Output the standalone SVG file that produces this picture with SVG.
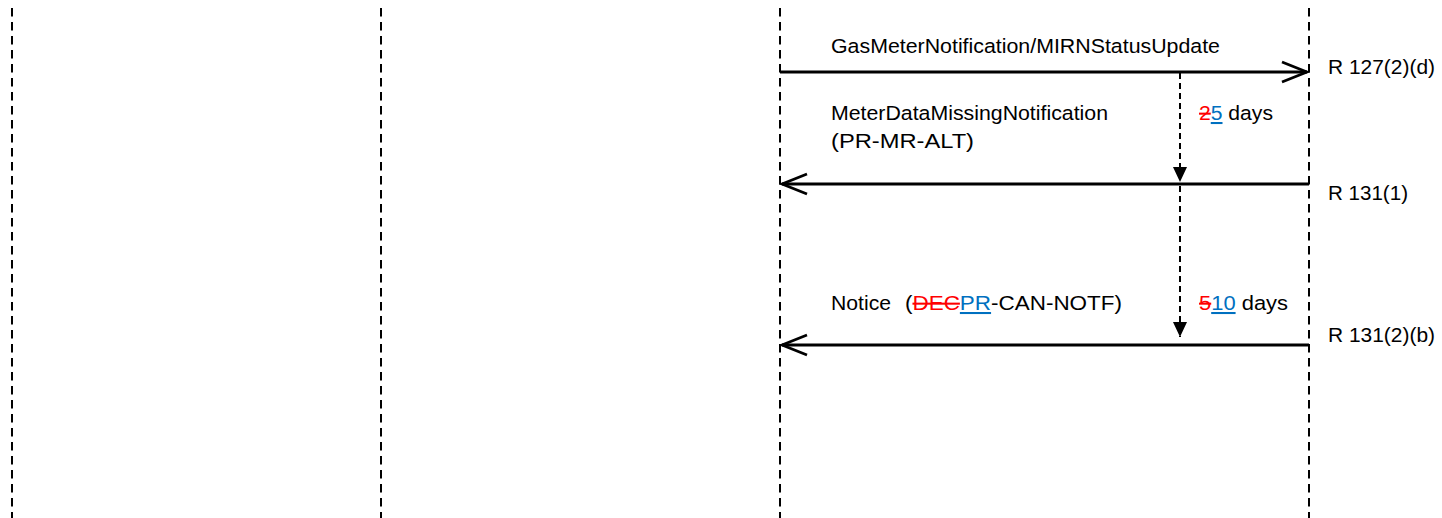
<svg xmlns="http://www.w3.org/2000/svg" width="1442" height="518" viewBox="0 0 1442 518">
<style>
.life{stroke:#000;stroke-width:2;stroke-dasharray:8.5 5.5;fill:none}
.msg{stroke:#000;stroke-width:2.8;fill:none}
.dur{stroke:#000;stroke-width:2;stroke-dasharray:6 4;fill:none}
text{font-family:"Liberation Sans",Arial,sans-serif;font-size:20.5px;fill:#000}
.del{fill:#f00;text-decoration:line-through}
.ins{fill:#0070c0;text-decoration:underline}
</style>
<defs>
<marker id="open" markerWidth="30" markerHeight="24" refX="27" refY="12" orient="auto" markerUnits="userSpaceOnUse">
<path d="M2,2 L27,12 L2,22" fill="none" stroke="#000" stroke-width="2.8"/>
</marker>
<marker id="tri" markerWidth="16" markerHeight="17" refX="8" refY="16" orient="0" markerUnits="userSpaceOnUse">
<path d="M1,1 L15,1 L8,16 Z" fill="#000"/>
</marker>
</defs>
<g id="lifelines">
<line id="L1" class="life" x1="12" y1="8" x2="12" y2="518"/>
<line id="L2" class="life" x1="381" y1="8" x2="381" y2="518"/>
<line id="L3" class="life" x1="780" y1="8" x2="780" y2="518"/>
<line id="L4" class="life" x1="1309" y1="8" x2="1309" y2="518"/>
</g>
<g id="connectors">
<line class="msg" x1="780" y1="72" x2="1307" y2="72" marker-end="url(#open)"/>
<line class="msg" x1="1309" y1="184" x2="782" y2="184" marker-end="url(#open)"/>
<line class="msg" x1="1309" y1="345" x2="782" y2="345" marker-end="url(#open)"/>
<line class="dur" x1="1180" y1="73" x2="1180" y2="182" marker-end="url(#tri)"/>
<line class="dur" x1="1180" y1="186" x2="1180" y2="337" marker-end="url(#tri)"/>
</g>
<g id="labels">
<text x="831" y="53" textLength="389" lengthAdjust="spacingAndGlyphs">GasMeterNotification/MIRNStatusUpdate</text>
<text x="1328" y="74" textLength="107" lengthAdjust="spacingAndGlyphs">R 127(2)(d)</text>
<text x="831" y="120" textLength="277" lengthAdjust="spacingAndGlyphs">MeterDataMissingNotification</text>
<text x="831" y="148" textLength="143" lengthAdjust="spacingAndGlyphs">(PR-MR-ALT)</text>
<text x="1199" y="120" textLength="74" lengthAdjust="spacingAndGlyphs"><tspan class="del">2</tspan><tspan class="ins">5</tspan> days</text>
<text x="1328" y="200" textLength="80" lengthAdjust="spacingAndGlyphs">R 131(1)</text>
<text x="831" y="310" textLength="60" lengthAdjust="spacingAndGlyphs">Notice</text>
<text x="905" y="310" textLength="217" lengthAdjust="spacingAndGlyphs">(<tspan class="del">DEC</tspan><tspan class="ins">PR</tspan>-CAN-NOTF)</text>
<text x="1199" y="310" textLength="89" lengthAdjust="spacingAndGlyphs"><tspan class="del">5</tspan><tspan class="ins">10</tspan> days</text>
<text x="1328" y="342" textLength="107" lengthAdjust="spacingAndGlyphs">R 131(2)(b)</text>
</g>
</svg>
